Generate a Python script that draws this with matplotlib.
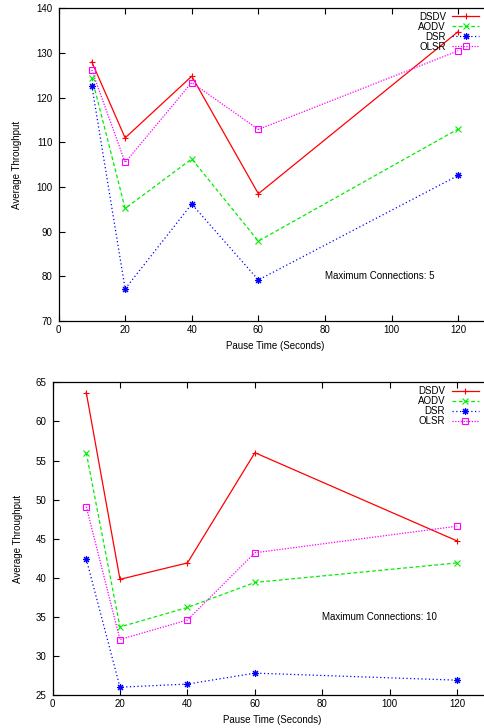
import matplotlib
matplotlib.use('Agg')
import matplotlib.pyplot as plt

plt.rcParams['font.family'] = ['Liberation Sans', 'DejaVu Sans']
plt.rcParams['font.size'] = 7

# pause times (seconds)
pause = [10, 20, 40, 60, 120]

# maximum connections: 5
dsdv_5 = [128.0, 111.0, 124.8, 98.5, 134.8]
aodv_5 = [124.5, 95.2, 106.3, 87.9, 113.0]
dsr_5 = [122.7, 77.2, 96.2, 79.2, 102.6]
olsr_5 = [126.2, 105.5, 123.4, 112.9, 130.5]

# maximum connections: 10
dsdv_10 = [63.7, 39.8, 41.9, 56.0, 44.7]
aodv_10 = [56.0, 33.7, 36.2, 39.4, 41.9]
dsr_10 = [42.4, 26.0, 26.4, 27.8, 26.9]
olsr_10 = [49.1, 32.1, 34.6, 43.2, 46.6]

protocols = ['DSDV', 'AODV', 'DSR', 'OLSR']
styles = {
    'DSDV': dict(color='#ff0000', ls='-', marker='+', ms=5, mew=0.8),
    'AODV': dict(color='#00ee00', ls=(0, (3, 2)), marker='x', ms=4.5, mew=0.8),
    'DSR': dict(color='#0000ff', ls=(0, (1, 2)), marker=(8, 2, 0), ms=5, mew=0.8),
    'OLSR': dict(color='#ff00ff', ls=(0, (1, 1.2)), marker='s', ms=5,
                 mew=0.8, mfc='none'),
}

fig = plt.figure(figsize=(4.84, 7.28), dpi=100)
ax1 = fig.add_axes([0.1209, 0.559, 0.8946, 0.4295])
ax2 = fig.add_axes([0.1085, 0.0453, 0.906, 0.4295])


def draw(ax, series, ylim, yticks, note, note_y, ylab_x, leg_top):
    for name, vals in zip(protocols, series):
        ax.plot(pause, vals, lw=0.9, label=name, **styles[name])
    ax.set_xlim(0, 130)
    ax.set_xticks(range(0, 121, 20))
    ax.set_ylim(*ylim)
    ax.set_yticks(yticks)
    ax.tick_params(direction='in', length=4, width=0.8, top=True)
    ax.tick_params(axis='y', pad=4.5)
    ax.tick_params(axis='x', pad=3)
    ax.spines['right'].set_visible(False)
    for s in ax.spines.values():
        s.set_linewidth(0.9)
    ax.set_xlabel('Pause Time (Seconds)')
    ax.set_ylabel('Average Throughput')
    ax.xaxis.set_label_coords(0.5, -0.064)
    ax.yaxis.set_label_coords(ylab_x, 0.5)
    ax.text(80, note_y, note, ha='left', va='center')
    ax.legend(loc='upper right', bbox_to_anchor=(0.972, leg_top),
              markerfirst=False, frameon=False, numpoints=1,
              handlelength=2.8, handletextpad=0.65, labelspacing=0.0,
              borderpad=0, borderaxespad=0)


draw(ax1, [dsdv_5, aodv_5, dsr_5, olsr_5], (70, 140), range(70, 141, 10),
     'Maximum Connections: 5', 80, -0.084, 0.989)
draw(ax2, [dsdv_10, aodv_10, dsr_10, olsr_10], (25, 65), range(25, 66, 5),
     'Maximum Connections: 10', 35, -0.068, 0.9875)

fig.savefig('out.png', dpi=100)
